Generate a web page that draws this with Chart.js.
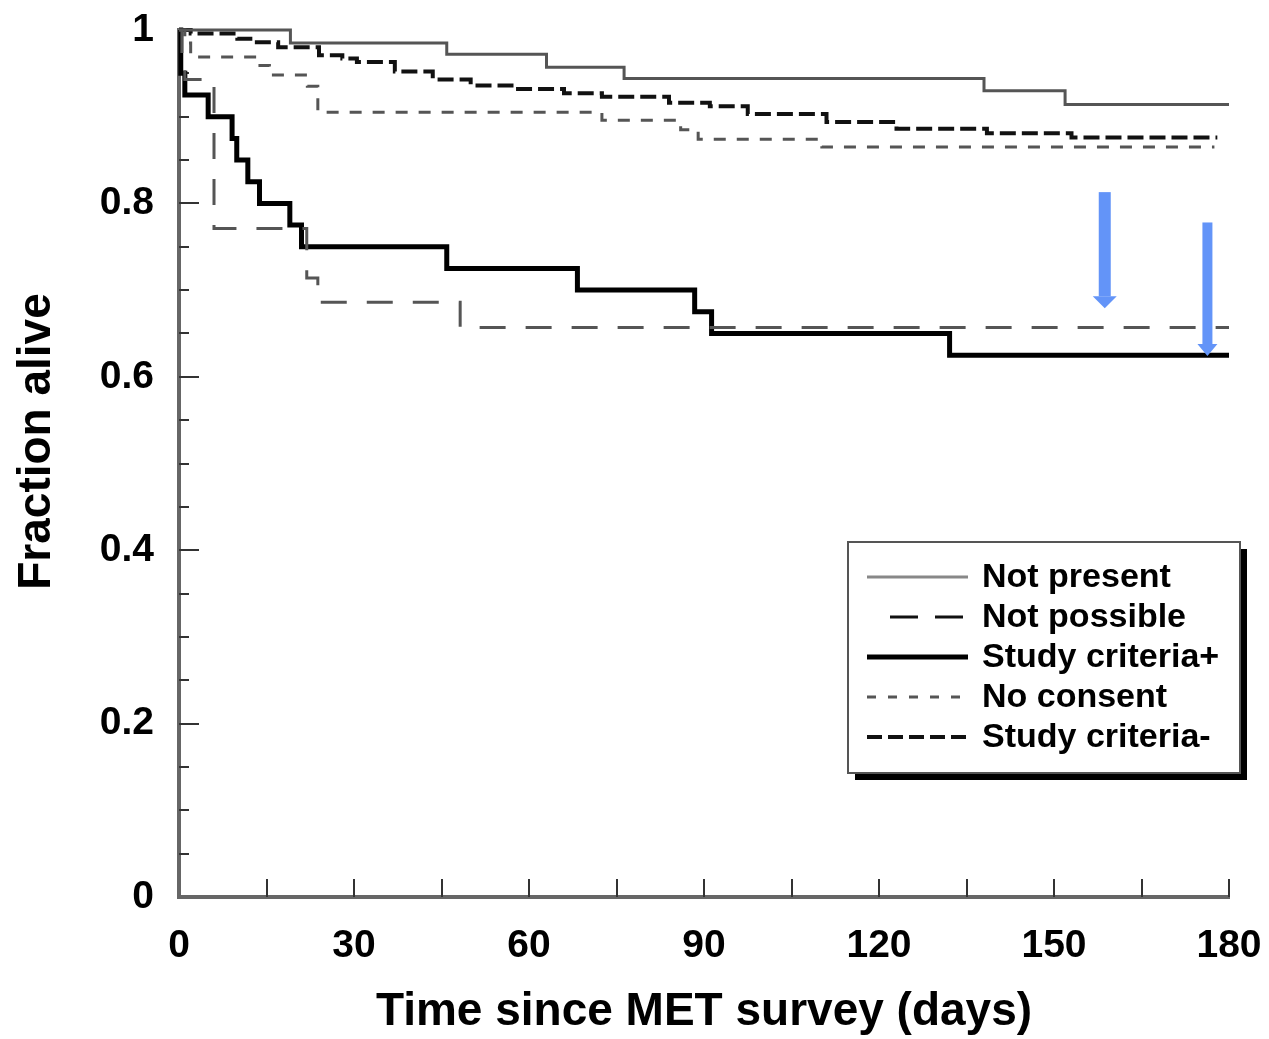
<!DOCTYPE html>
<html>
<head>
<meta charset="utf-8">
<title>Fraction alive</title>
<script src="https://cdn.jsdelivr.net/npm/chart.js@4.4.0/dist/chart.umd.min.js"></script>
<style>
  html, body { margin: 0; padding: 0; background: #fff; overflow: hidden; }
</style>
</head>
<body>
<canvas id="survival" width="1269" height="1039"></canvas>
<script>
// values: day of each step and the fraction alive after it
var notPresentDays = [0, 19.1, 45.9, 63.0, 76.3, 138.0, 151.9, 180];
var notPresentVals = [1.0, 0.985, 0.972, 0.957, 0.944, 0.930, 0.914, 0.914];

var notPossibleDays = [0, 0.5, 1, 6.0, 21.9, 23.8, 48.2, 180];
var notPossibleVals = [1.0, 0.971, 0.943, 0.771, 0.714, 0.686, 0.657, 0.657];

var criteriaPlusDays = [0, 0.3, 1, 5.0, 9.1, 9.9, 11.8, 13.8, 19.0, 21.0, 45.9, 68.3, 88.4, 91.3, 132.1, 180];
var criteriaPlusVals = [1.0, 0.95, 0.925, 0.9, 0.875, 0.85, 0.825, 0.8, 0.775, 0.75, 0.725, 0.7, 0.675, 0.65, 0.625, 0.625];

var noConsentDays = [0, 1, 2, 13.5, 15.5, 22, 23.8, 72.5, 86, 89, 110.2, 177.5];
var noConsentVals = [1.0, 0.985, 0.969, 0.959, 0.948, 0.935, 0.905, 0.896, 0.885, 0.874, 0.865, 0.865];

var criteriaMinusDays = [0, 2, 10, 13, 17, 24, 28, 30.5, 37, 43.5, 50, 57, 66, 72.5, 84, 91, 97.5, 111, 123, 138.5, 153, 178];
var criteriaMinusVals = [1.0, 0.996, 0.99, 0.986, 0.98, 0.971, 0.967, 0.963, 0.952, 0.943, 0.936, 0.932, 0.927, 0.923, 0.916, 0.912, 0.903, 0.894, 0.886, 0.881, 0.876, 0.876];

var seriesNames = ['Not present', 'Not possible', 'Study criteria+', 'No consent', 'Study criteria-'];

var xTickLabels = [0, 30, 60, 90, 120, 150, 180];
var xTickMarks = [15, 30, 45, 60, 75, 90, 105, 120, 135, 150, 165, 180];
var yTickLabels = ['0', '0.2', '0.4', '0.6', '0.8', '1'];
var yTickMarks = [0.05, 0.1, 0.15, 0.2, 0.25, 0.3, 0.35, 0.4, 0.45, 0.5, 0.55, 0.6, 0.65, 0.7, 0.75, 0.8, 0.85, 0.9, 0.95, 1];

// the two blue arrows: day, start and end value
var arrowDays = [158.7, 176.3];
var arrowFrom = [0.813, 0.778];
var arrowTo = [0.679, 0.624];

var xTitle = 'Time since MET survey (days)';
var yTitle = 'Fraction alive';

var FONT = '"Liberation Sans", Arial, Helvetica, sans-serif';

function toPoints(days, vals) {
	return days.map(function (d, i) {
		return { x: d, y: vals[i] };
	});
}

var innerTicks = {
	id: 'innerTicks',
	beforeDatasetsDraw: function (chart) {
		var ctx = chart.ctx;
		var xs = chart.scales.x;
		var ys = chart.scales.y;
		var area = chart.chartArea;
		ctx.save();
		ctx.strokeStyle = '#333';
		ctx.lineWidth = 2;
		ctx.beginPath();
		xTickMarks.forEach(function (d) {
			var px = Math.round(xs.getPixelForValue(d));
			ctx.moveTo(px, area.bottom);
			ctx.lineTo(px, area.bottom - 18);
		});
		yTickMarks.forEach(function (v) {
			var py = Math.round(ys.getPixelForValue(v));
			var major = Math.abs(v * 5 - Math.round(v * 5)) < 1e-6;
			ctx.moveTo(area.left, py);
			ctx.lineTo(area.left + (major ? 20 : 10), py);
		});
		ctx.stroke();

		// y axis title, sits a little above the middle of the axis
		ctx.fillStyle = '#000';
		ctx.font = 'bold 46px ' + FONT;
		ctx.textAlign = 'center';
		ctx.textBaseline = 'middle';
		ctx.translate(37, (area.top + area.bottom) / 2 - 22);
		ctx.rotate(-Math.PI / 2);
		ctx.fillText(yTitle, 0, 0);
		ctx.restore();
	}
};

var arrowsAndLegend = {
	id: 'arrowsAndLegend',
	afterDatasetsDraw: function (chart) {
		var ctx = chart.ctx;
		var xs = chart.scales.x;
		var ys = chart.scales.y;
		var area = chart.chartArea;
		ctx.save();

		// arrows
		ctx.fillStyle = '#6394f8';
		arrowDays.forEach(function (d, i) {
			var px = xs.getPixelForValue(d);
			var y0 = ys.getPixelForValue(arrowFrom[i]);
			var y1 = ys.getPixelForValue(arrowTo[i]);
			var shaft = i === 0 ? 12 : 10;
			var head = i === 0 ? 24 : 20;
			var headLen = 12;
			ctx.fillRect(px - shaft / 2, y0, shaft, y1 - y0 - headLen);
			ctx.beginPath();
			ctx.moveTo(px - head / 2, y1 - headLen);
			ctx.lineTo(px + head / 2, y1 - headLen);
			ctx.lineTo(px, y1);
			ctx.closePath();
			ctx.fill();
		});

		// legend box with drop shadow
		var left = area.right - 381;
		var top = area.top + 512;
		var w = 392;
		var h = 231;
		ctx.fillStyle = '#000';
		ctx.fillRect(left + 7, top + 7, w, h);
		ctx.fillStyle = '#fff';
		ctx.fillRect(left, top, w, h);
		ctx.strokeStyle = '#555';
		ctx.lineWidth = 2;
		ctx.strokeRect(left, top, w, h);

		ctx.font = 'bold 34px ' + FONT;
		ctx.textAlign = 'left';
		ctx.textBaseline = 'middle';
		chart.data.datasets.forEach(function (ds, i) {
			var y = top + 35 + i * 40;
			ctx.beginPath();
			ctx.strokeStyle = ds.legendColor || ds.borderColor;
			ctx.lineWidth = ds.borderWidth;
			ctx.setLineDash(ds.legendDash || []);
			ctx.moveTo(left + (ds.legendStart || 19), y);
			ctx.lineTo(left + 120, y);
			ctx.stroke();
			ctx.setLineDash([]);
			ctx.fillStyle = '#000';
			ctx.fillText(ds.label, left + 134, y + 1);
		});
		ctx.restore();
	}
};

var ctx = document.getElementById('survival');
var survival = new Chart(ctx, {
	type: 'line',
	data: {
		datasets: [
			{
				label: seriesNames[0],
				data: toPoints(notPresentDays, notPresentVals),
				borderColor: '#555',
				legendColor: '#888',
				borderWidth: 3,
				stepped: 'before',
				pointRadius: 0,
				clip: false
			},
			{
				label: seriesNames[1],
				data: toPoints(notPossibleDays, notPossibleVals),
				borderColor: '#555',
				legendColor: '#111',
				borderWidth: 3,
				borderDash: [26, 20],
				legendDash: [28, 17],
				legendStart: 42,
				stepped: 'before',
				pointRadius: 0,
				clip: false
			},
			{
				label: seriesNames[2],
				data: toPoints(criteriaPlusDays, criteriaPlusVals),
				borderColor: '#000',
				borderWidth: 5,
				stepped: 'before',
				pointRadius: 0,
				clip: false
			},
			{
				label: seriesNames[3],
				data: toPoints(noConsentDays, noConsentVals),
				borderColor: '#555',
				borderWidth: 3,
				borderDash: [12, 11],
				legendDash: [9, 12],
				stepped: 'before',
				pointRadius: 0,
				clip: false
			},
			{
				label: seriesNames[4],
				data: toPoints(criteriaMinusDays, criteriaMinusVals),
				borderColor: '#111',
				borderWidth: 4,
				borderDash: [16, 6],
				legendDash: [15, 6],
				stepped: 'before',
				pointRadius: 0,
				clip: false
			}
		]
	},
	options: {
		responsive: false,
		animation: false,
		devicePixelRatio: 1,
		layout: { padding: { top: 30, right: 40, bottom: 0, left: 0 } },
		plugins: {
			legend: { display: false },
			tooltip: { enabled: false }
		},
		scales: {
			x: {
				type: 'linear',
				min: 0,
				max: 180,
				afterFit: function (scale) { scale.height = 142; },
				afterBuildTicks: function (scale) {
					scale.ticks = xTickLabels.map(function (v) { return { value: v }; });
				},
				// tick marks are drawn inward by the plugin; tickLength only spaces the labels
				grid: { display: false, drawTicks: true, tickLength: 26 },
				border: { display: true, color: '#666', width: 4 },
				ticks: {
					padding: 0,
					maxRotation: 0,
					color: '#000',
					font: { family: FONT, size: 39, weight: 'bold' },
					callback: function (v) { return String(v); }
				},
				title: {
					display: true,
					text: xTitle,
					color: '#000',
					padding: { top: 0, bottom: 0 },
					font: { family: FONT, size: 46, weight: 'bold', lineHeight: 1.15 }
				}
			},
			y: {
				min: 0,
				max: 1,
				afterFit: function (scale) { scale.width = 179; },
				afterBuildTicks: function (scale) {
					scale.ticks = yTickLabels.map(function (t) { return { value: parseFloat(t) }; });
				},
				grid: { display: false, drawTicks: true, tickLength: 25 },
				border: { display: true, color: '#666', width: 4 },
				ticks: {
					padding: 0,
					color: '#000',
					font: { family: FONT, size: 39, weight: 'bold' },
					callback: function (v, i) { return yTickLabels[i]; }
				}
			}
		}
	},
	plugins: [innerTicks, arrowsAndLegend]
});
</script>
</body>
</html>
